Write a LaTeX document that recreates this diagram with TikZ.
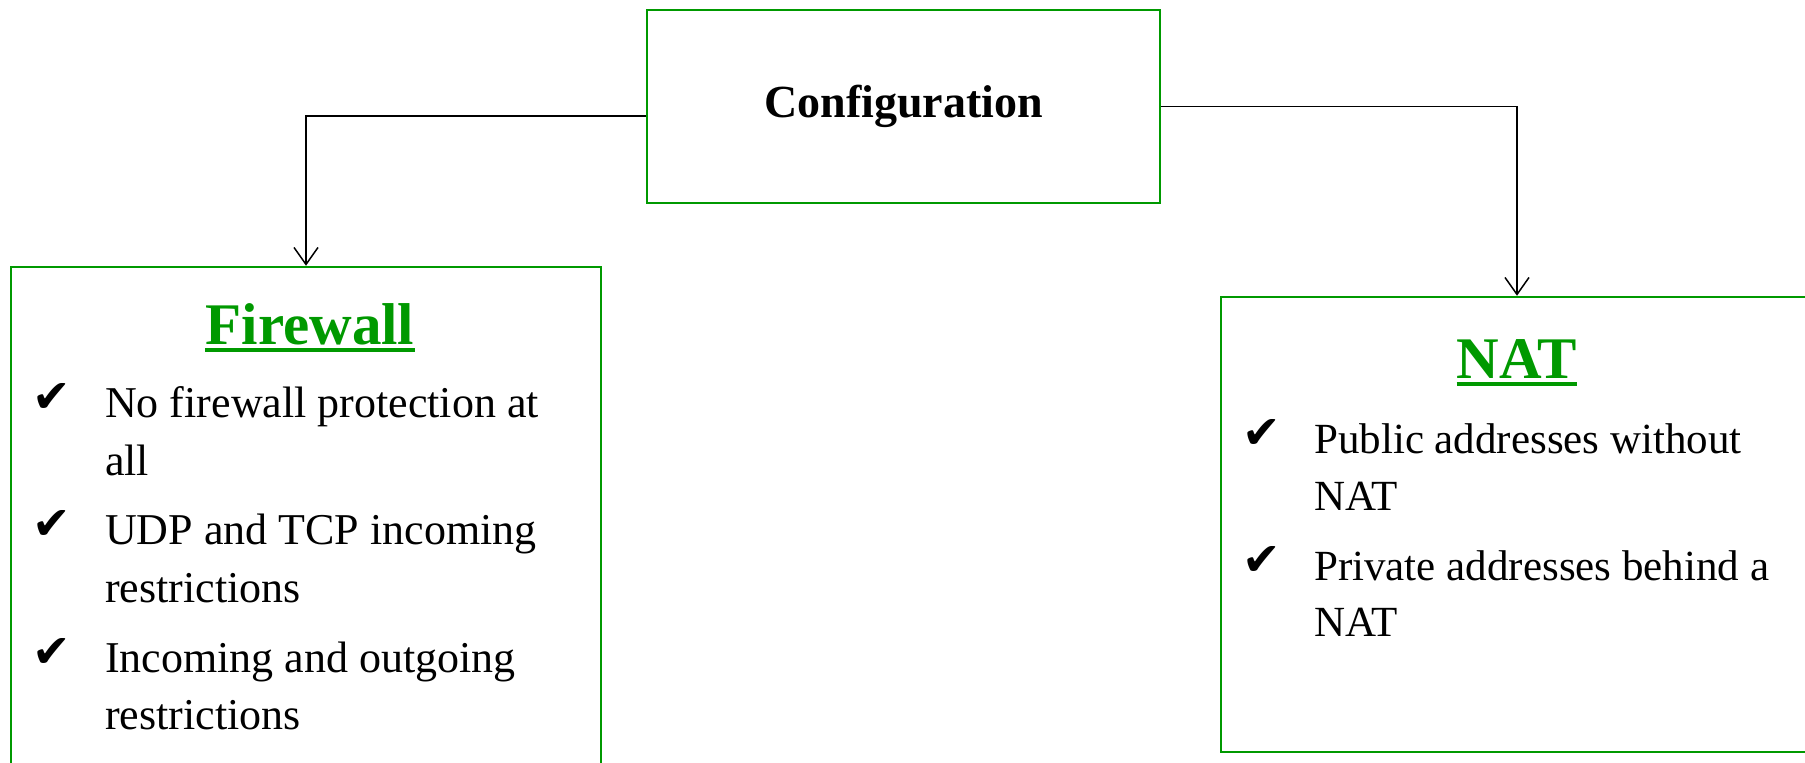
\documentclass[tikz,border=0pt]{standalone}
\usepackage{fontspec}
\setmainfont{Liberation Serif}
\newfontfamily\chkfont{DejaVu Sans}
\usetikzlibrary{arrows.meta}
\definecolor{grn}{RGB}{0,153,0}
\begin{document}
\begin{tikzpicture}[x=1pt,y=-1pt,
  box/.style={draw=grn,line width=2.5pt,inner sep=0pt},
  conn/.style={draw=black,line width=1.5pt,-{Straight Barb[length=17pt,width=24pt,line width=1.5pt]}},
  fwitem/.style={anchor=base west,inner sep=0pt,font=\fontsize{44}{52}\selectfont},
  natitem/.style={anchor=base west,inner sep=0pt,font=\fontsize{43}{52}\selectfont},
  chk/.style={anchor=base west,inner sep=0pt,font=\chkfont\fontsize{46}{52}\selectfont},
  title/.style={anchor=base,inner sep=0pt,text=grn,font=\bfseries\fontsize{59}{66}\selectfont},
  uline/.style={draw=grn,line width=3.5pt}]
\useasboundingbox (0,0) rectangle (1805,763);
\clip (0,0) rectangle (1805,763);
\fill[white] (0,0) rectangle (1805,763);

% boxes
\node[box,minimum width=513pt,minimum height=193pt,font=\bfseries\fontsize{46}{54}\selectfont] (cfg) at (903.5,106.5) {Configuration};
\node[box,minimum width=590pt,minimum height=533pt] (fw) at (306,533.5) {};
\node[box,minimum width=592pt,minimum height=455pt] (nat) at (1517,524.5) {};

% connectors
\draw[conn] ([yshift=-9.5pt]cfg.west) -| (fw.north);
\draw[conn] (cfg.east) -| (nat.north);

% Firewall content
\node[title] (fwt) at (310,344) {Firewall};
\draw[uline] ([yshift=-6pt]fwt.base west) -- ([yshift=-6pt]fwt.base east);
\node[chk] (fc1) at (32,412) {✔};
\node[fwitem] (f1a) at (105,417) {No firewall protection at};
\node[fwitem] (f1b) at (105,475) {all};
\node[chk] (fc2) at (32,539) {✔};
\node[fwitem] (f2a) at (105,544) {UDP and TCP incoming};
\node[fwitem] (f2b) at (105,602) {restrictions};
\node[chk] (fc3) at (32,667) {✔};
\node[fwitem] (f3a) at (105,672) {Incoming and outgoing};
\node[fwitem] (f3b) at (105,729) {restrictions};

% NAT content
\node[title] (natt) at (1517,378) {NAT};
\draw[uline] ([yshift=-6pt]natt.base west) -- ([yshift=-6pt]natt.base east);
\node[chk] (nc1) at (1242,448) {✔};
\node[natitem] (n1a) at (1314,453) {Public addresses without};
\node[natitem] (n1b) at (1314,510) {NAT};
\node[chk] (nc2) at (1242,575) {✔};
\node[natitem] (n2a) at (1314,580) {Private addresses behind a};
\node[natitem] (n2b) at (1314,636) {NAT};
\end{tikzpicture}
\end{document}
